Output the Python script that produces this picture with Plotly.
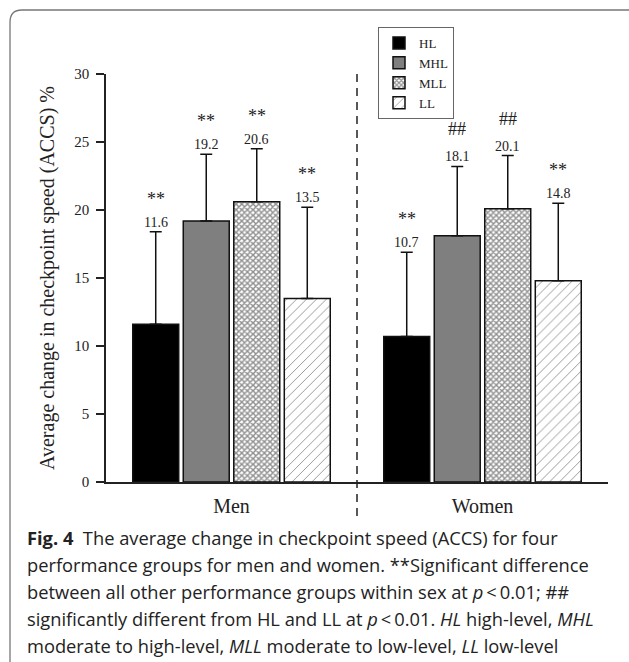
import plotly.graph_objects as go

sexes = ["Men", "Women"]
groups = ["HL", "MHL", "MLL", "LL"]
means = {
    "HL": [11.6, 10.7],
    "MHL": [19.2, 18.1],
    "MLL": [20.6, 20.1],
    "LL": [13.5, 14.8],
}
sds = {
    "HL": [6.8, 6.2],
    "MHL": [4.9, 5.1],
    "MLL": [3.9, 3.9],
    "LL": [6.7, 5.7],
}
marks = {
    "HL": ["**", "**"],
    "MHL": ["**", "##"],
    "MLL": ["**", "##"],
    "LL": ["**", "**"],
}
y_ticks = [0, 5, 10, 15, 20, 25, 30]

caption_lines = [
    "<b>Fig. 4</b>\u00a0\u00a0The average change in checkpoint speed (ACCS) for four",
    "performance groups for men and women. **Significant difference",
    "between all other performance groups within sex at <i>p</i>\u2009&lt;\u20090.01; ##",
    "significantly different from HL and LL at <i>p</i>\u2009&lt;\u20090.01. <i>HL</i> high-level, <i>MHL</i>",
    "moderate to high-level, <i>MLL</i> moderate to low-level, <i>LL</i> low-level",
]

styles = {
    "HL": dict(color="#000000"),
    "MHL": dict(color="#7f7f7f"),
    "MLL": dict(color="#ffffff", pattern=dict(shape="x", size=4, solidity=0.6,
                                              fgcolor="#222222", bgcolor="#ffffff")),
    "LL": dict(color="#ffffff", pattern=dict(shape="/", size=7, solidity=0.14,
                                             fgcolor="#333333", bgcolor="#ffffff")),
}

SERIF = "Liberation Serif"
SANS = "Open Sans"
bargap = 0.195
bargroupgap = 0.09

fig = go.Figure()
for g in groups:
    fig.add_trace(go.Bar(
        name=g, x=sexes, y=means[g],
        marker=dict(line=dict(color="#111111", width=1.5), **styles[g]),
        error_y=dict(type="data", symmetric=False, array=sds[g],
                     arrayminus=[0] * len(sexes),
                     color="#111111", thickness=1.5, width=6),
    ))

# annotations above error bars
slot = (1 - bargap) / len(groups)
annotations = []
for gi, g in enumerate(groups):
    off = (gi - (len(groups) - 1) / 2) * slot
    for si, s in enumerate(sexes):
        top = means[g][si] + sds[g][si]
        annotations.append(dict(
            x=si + off, y=top, xref="x", yref="y", text=f"{means[g][si]:.1f}",
            showarrow=False, yanchor="bottom", yshift=0,
            font=dict(family=SERIF, size=14, color="#222222")))
        mk = marks[g][si]
        annotations.append(dict(
            x=si + off, y=top, xref="x", yref="y", text=mk,
            showarrow=False, yanchor="bottom",
            yshift=21 if mk == "**" else 25,
            font=dict(family=SERIF, size=18, color="#222222")))

caption_y = [537, 564, 591, 618, 645]
for txt, py in zip(caption_lines, caption_y):
    annotations.append(dict(
        x=(25 - 106) / 502, y=(482 - py) / 408, xref="paper", yref="paper",
        xanchor="left", yanchor="middle", align="left", showarrow=False,
        text=txt, font=dict(family=SANS, size=18.3, color="#222222")))

# frame with rounded top-left corner
xl = (10 - 106) / 502
yt = (482 - 10) / 408
xr = (660 - 106) / 502
yb = (482 - 670) / 408
rx = 12 / 502
ry = 12 / 408
frame_path = (f"M {xl},{yb} L {xl},{yt - ry} Q {xl},{yt} {xl + rx},{yt} "
              f"L {xr},{yt}")

shapes = [
    dict(type="line", xref="x", yref="paper", x0=0.5, x1=0.5,
         y0=(482 - 516) / 408, y1=(482 - 72) / 408,
         line=dict(color="#222222", width=1.5, dash="8px,6px")),
    dict(type="path", xref="paper", yref="paper", path=frame_path,
         line=dict(color="#777777", width=1.3)),
]

fig.update_layout(
    width=629, height=662,
    margin=dict(l=106, r=21, t=74, b=180),
    paper_bgcolor="white", plot_bgcolor="white",
    barmode="group", bargap=bargap, bargroupgap=bargroupgap,
    showlegend=True,
    legend=dict(x=(378 - 106) / 502, y=(482 - 27) / 408, xanchor="left", yanchor="top",
                bgcolor="white", bordercolor="#666666", borderwidth=1,
                font=dict(family=SERIF, size=13, color="#222222"),
                itemwidth=30, tracegroupgap=0),
    annotations=annotations,
    shapes=shapes,
    xaxis=dict(showline=True, linecolor="#222222", linewidth=1.5,
               ticks="", tickfont=dict(family=SERIF, size=20, color="#222222"),
               ticklabelstandoff=5, showgrid=False, zeroline=False),
    yaxis=dict(range=[0, 30], tickvals=y_ticks, showline=True, linecolor="#222222",
               linewidth=1.5, ticks="outside", ticklen=8, tickwidth=1.5,
               tickcolor="#222222", showgrid=False, zeroline=False,
               tickfont=dict(family=SERIF, size=15, color="#222222"),
               ticklabelstandoff=4,
               title=dict(text="Average change in checkpoint speed (ACCS) %",
                          font=dict(family=SERIF, size=20, color="#222222"),
                          standoff=14)),
)

fig.write_html("out.html", config={"displayModeBar": False},
               post_script="document.body.style.margin='0';")
